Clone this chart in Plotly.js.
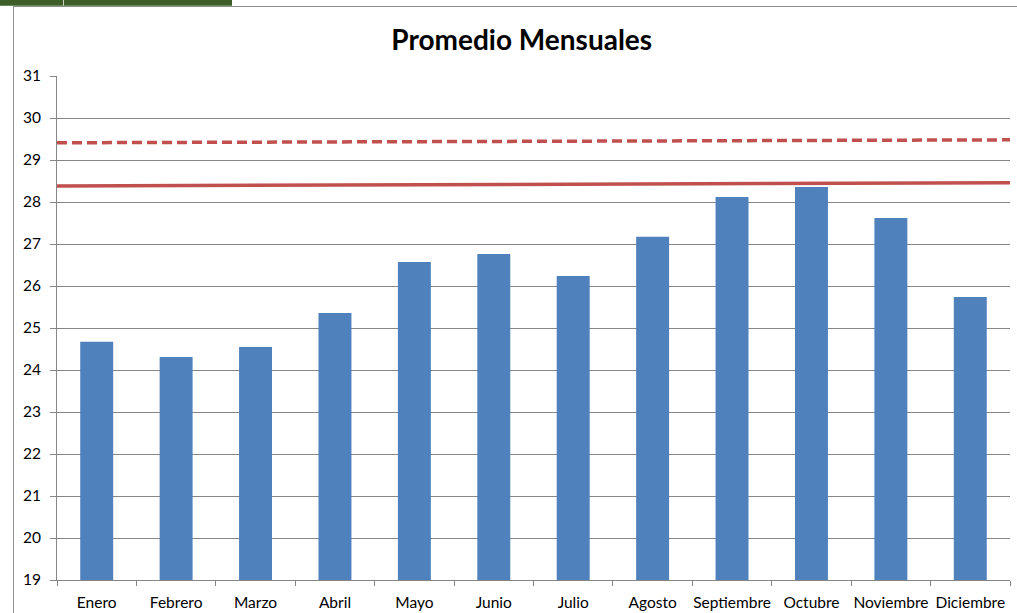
<!DOCTYPE html>
<html>
<head>
<meta charset="utf-8">
<script src="https://cdn.plot.ly/plotly-3.0.1.min.js"></script>
<style>html,body{margin:0;padding:0;background:#fff;}#chart{width:1017px;height:613px;}</style>
</head>
<body>
<div id="chart"></div>
<script>
const months = ["Enero","Febrero","Marzo","Abril","Mayo","Junio","Julio","Agosto","Septiembre","Octubre","Noviembre","Diciembre"];
const promedio = [24.67, 24.31, 24.55, 25.36, 26.57, 26.76, 26.24, 27.17, 28.12, 28.36, 27.62, 25.74];
const lineSolidX = [0, 1];
const lineSolid = [28.38, 28.46];
const lineDashedX = [0, 1];
const lineDashed = [29.41, 29.48];
const yTicks = [19,20,21,22,23,24,25,26,27,28,29,30,31];

const F = "Lato, 'Open Sans', sans-serif";

const traces = [
  {type:"bar", x: months, y: promedio, marker:{color:"#4F81BD"}, hoverinfo:"x+y", showlegend:false},
  {type:"scatter", mode:"lines", x: lineDashedX, y: lineDashed, xaxis:"x2", line:{color:"#C0504D", width:3.5, dash:"10px,5px"}, showlegend:false},
  {type:"scatter", mode:"lines", x: lineSolidX, y: lineSolid, xaxis:"x2", line:{color:"#C0504D", width:3.5}, showlegend:false}
];

// pixel helpers for decorations (plot area 57..1010 x 76..580)
const px = v => (v - 57) / 953;
const py = v => (580 - v) / 504;

const layout = {
  width: 1017, height: 613,
  margin: {l:57, r:7, t:76, b:33},
  paper_bgcolor:"#fff", plot_bgcolor:"#fff",
  title: {text:"<b>Promedio Mensuales</b>", x:0.513, xanchor:"center", y:0.935, yanchor:"middle", font:{family:F, size:28, color:"#000"}},
  bargap: 0.585,
  xaxis: {type:"category", showgrid:false, showline:true, linecolor:"#868686", linewidth:1,
          ticks:"outside", tickson:"boundaries", ticklen:5, tickcolor:"#868686", tickangle:0, automargin:false,
          ticklabelstandoff:8, tickfont:{family:F, size:15.5, color:"#000"}, fixedrange:true},
  xaxis2: {overlaying:"x", range:[0,1], visible:false, fixedrange:true},
  yaxis: {range:[19,31], tickvals: yTicks, ticktext: yTicks.map(String), showgrid:true, gridcolor:"#868686", gridwidth:1,
          showline:true, linecolor:"#868686", linewidth:1, ticks:"outside", ticklen:6, tickcolor:"#868686", automargin:false,
          ticklabelstandoff:6, tickfont:{family:F, size:15.5, color:"#000"}, zeroline:false, fixedrange:true},
  shapes: [
    {type:"rect", xref:"paper", yref:"paper", x0:px(0), x1:px(232), y0:py(5.7), y1:py(0), fillcolor:"#3D5F27", line:{width:0}, layer:"above"},
    {type:"line", xref:"paper", yref:"paper", x0:px(63.5), x1:px(63.5), y0:py(5.7), y1:py(0), line:{color:"#C9D3C0", width:1}},
    {type:"line", xref:"paper", yref:"paper", x0:px(13.5), x1:px(13.5), y0:py(6), y1:py(613), line:{color:"#8E8E8E", width:1}},
    {type:"line", xref:"paper", yref:"paper", x0:px(13.5), x1:px(1017), y0:py(6.5), y1:py(6.5), line:{color:"#8E8E8E", width:1}}
  ]
};

Plotly.newPlot("chart", traces, layout, {displayModeBar:false, staticPlot:true});
</script>
</body>
</html>
